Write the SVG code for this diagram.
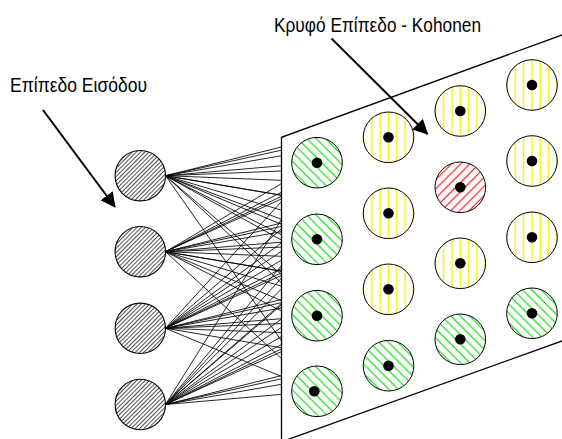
<svg xmlns="http://www.w3.org/2000/svg" width="562" height="439" viewBox="0 0 562 439">
  <style>
    .label { font-family: "Liberation Sans", Arial, sans-serif; font-size: 21px; fill: #000; }
    .link { stroke: #000; stroke-width: 0.85; fill: none; }
    .plane { stroke: #000; stroke-width: 1.3; fill: none; }
    .pointer { stroke: #000; stroke-width: 2; fill: none; marker-end: url(#head); }
    .input { fill: url(#hatchBlack); stroke: #000; stroke-width: 1.1; }
    .unit { stroke: #000; stroke-width: 1; }
    .green { fill: url(#hatchGreen); }
    .yellow { fill: url(#hatchYellow); }
    .red { fill: url(#hatchRed); }
    .dot { fill: #000; }
  </style>
  <defs>
    <marker id="head" viewBox="0 0 15 15" refX="14" refY="7.5" markerWidth="15" markerHeight="15" markerUnits="userSpaceOnUse" orient="auto">
      <path d="M0,0 L15,7.5 L0,15 Z" fill="#000"/>
    </marker>
    <pattern id="hatchBlack" patternUnits="userSpaceOnUse" width="3" height="10" patternTransform="rotate(45)">
      <rect width="3" height="10" fill="#fff"/>
      <line x1="1.5" y1="0" x2="1.5" y2="10" stroke="#000" stroke-width="0.7"/>
    </pattern>
    <pattern id="hatchGreen" patternUnits="userSpaceOnUse" width="6.6" height="10" patternTransform="rotate(-45)">
      <rect width="6.6" height="10" fill="#fff"/>
      <line x1="3.3" y1="0" x2="3.3" y2="10" stroke="#18e018" stroke-width="1.2"/>
    </pattern>
    <pattern id="hatchRed" patternUnits="userSpaceOnUse" width="6.5" height="10" patternTransform="rotate(45)">
      <rect width="6.5" height="10" fill="#fff"/>
      <line x1="3.25" y1="0" x2="3.25" y2="10" stroke="#ff1e1e" stroke-width="1.2"/>
    </pattern>
    <pattern id="hatchYellow" patternUnits="userSpaceOnUse" x="-4.15" y="0" width="8.3" height="10">
      <rect width="8.3" height="10" fill="#fff"/>
      <line x1="4.15" y1="0" x2="4.15" y2="10" stroke="#ffee00" stroke-width="1.4"/>
    </pattern>
  </defs>

  <rect width="562" height="439" fill="#fff"/>

  <!-- all-to-all links from the input units, ending at the edge of the map plane -->
  <g id="connectors">
    <path class="link" d="M165.5,175.7 L281.5,165.8 M165.5,175.7 L281.5,224.4 M165.5,175.7 L281.5,282.9 M165.5,175.7 L281.5,340.8
      M165.5,175.7 L281.5,155.7 M165.5,175.7 L281.5,195.3 M165.5,175.7 L281.5,234.8 M165.5,175.7 L281.5,274.5
      M165.5,175.7 L281.5,150.2 M165.5,175.7 L281.5,180.3 M165.5,175.7 L281.5,210.2 M165.5,175.7 L281.5,240.1
      M165.5,175.7 L281.5,147.0 M165.5,175.7 L281.5,171.0 M165.5,175.7 L281.5,195.2 M165.5,175.7 L281.5,219.3"/>
    <path class="link" d="M165.5,251.7 L281.5,183.6 M165.5,251.7 L281.5,242.2 M165.5,251.7 L281.5,300.7 M165.5,251.7 L281.5,358.6
      M165.5,251.7 L281.5,192.2 M165.5,251.7 L281.5,231.7 M165.5,251.7 L281.5,271.3 M165.5,251.7 L281.5,311.0
      M165.5,251.7 L281.5,196.3 M165.5,251.7 L281.5,226.4 M165.5,251.7 L281.5,256.3 M165.5,251.7 L281.5,286.2
      M165.5,251.7 L281.5,198.9 M165.5,251.7 L281.5,223.0 M165.5,251.7 L281.5,247.1 M165.5,251.7 L281.5,271.2"/>
    <path class="link" d="M165.5,328.3 L281.5,201.5 M165.5,328.3 L281.5,260.2 M165.5,328.3 L281.5,318.7 M165.5,328.3 L281.5,376.5
      M165.5,328.3 L281.5,228.9 M165.5,328.3 L281.5,268.5 M165.5,328.3 L281.5,308.0 M165.5,328.3 L281.5,347.8
      M165.5,328.3 L281.5,242.8 M165.5,328.3 L281.5,272.8 M165.5,328.3 L281.5,302.7 M165.5,328.3 L281.5,332.6
      M165.5,328.3 L281.5,251.3 M165.5,328.3 L281.5,275.4 M165.5,328.3 L281.5,299.5 M165.5,328.3 L281.5,323.6"/>
    <path class="link" d="M165.5,404.5 L281.5,219.4 M165.5,404.5 L281.5,278.0 M165.5,404.5 L281.5,336.5 M165.5,404.5 L281.5,394.4
      M165.5,404.5 L281.5,265.5 M165.5,404.5 L281.5,305.0 M165.5,404.5 L281.5,344.6 M165.5,404.5 L281.5,384.3
      M165.5,404.5 L281.5,289.0 M165.5,404.5 L281.5,319.0 M165.5,404.5 L281.5,348.9 M165.5,404.5 L281.5,378.8
      M165.5,404.5 L281.5,303.4 M165.5,404.5 L281.5,327.4 M165.5,404.5 L281.5,351.6 M165.5,404.5 L281.5,375.6"/>
    <!-- pointers from the layer captions -->
    <line class="pointer" x1="43" y1="110" x2="115" y2="207"/>
    <line class="pointer" x1="331.5" y1="38.5" x2="427.5" y2="134"/>
  </g>

  <!-- map plane seen in perspective -->
  <g id="plane">
    <path class="plane" d="M563,34.6 L281.5,137.3 L281.5,440"/>
    <path class="plane" d="M281.5,441.8 L563,340.6"/>
  </g>

  <!-- input layer -->
  <g id="input1" transform="translate(140.3,175.7)"><circle class="input" r="25.2"/></g>
  <g id="input2" transform="translate(140.3,251.7)"><circle class="input" r="25.2"/></g>
  <g id="input3" transform="translate(140.3,328.3)"><circle class="input" r="25.2"/></g>
  <g id="input4" transform="translate(140.3,404.5)"><circle class="input" r="25.2"/></g>

  <!-- Kohonen layer, column by column -->
  <g id="k11" transform="translate(317,162.7)"><circle class="unit green" r="25.3"/><circle class="dot" r="5.3"/></g>
  <g id="k21" transform="translate(317,239.3)"><circle class="unit green" r="25.3"/><circle class="dot" r="5.3"/></g>
  <g id="k31" transform="translate(317,315.7)"><circle class="unit green" r="25.3"/><circle class="dot" r="5.3"/></g>
  <g id="k41" transform="translate(317,391.3)"><circle class="unit green" r="25.3"/><circle class="dot" cx="-2.7" r="5.3"/></g>

  <g id="k12" transform="translate(388.5,137.3)"><circle class="unit yellow" r="25.3"/><circle class="dot" r="5.3"/></g>
  <g id="k22" transform="translate(388.5,213.3)"><circle class="unit yellow" r="25.3"/><circle class="dot" r="5.3"/></g>
  <g id="k32" transform="translate(388.5,289.3)"><circle class="unit yellow" r="25.3"/><circle class="dot" r="5.3"/></g>
  <g id="k42" transform="translate(388.5,365.7)"><circle class="unit green" r="25.3"/><circle class="dot" r="5.3"/></g>

  <g id="k13" transform="translate(460.3,111)"><circle class="unit yellow" r="25.3"/><circle class="dot" r="5.3"/></g>
  <g id="k23" transform="translate(460.3,187.3)"><circle class="unit red" r="25.3"/><circle class="dot" r="5.3"/></g>
  <g id="k33" transform="translate(460.3,263.3)"><circle class="unit yellow" r="25.3"/><circle class="dot" r="5.3"/></g>
  <g id="k43" transform="translate(460.3,339.3)"><circle class="unit green" r="25.3"/><circle class="dot" r="5.3"/></g>

  <g id="k14" transform="translate(532,85)"><circle class="unit yellow" r="25.3"/><circle class="dot" r="5.3"/></g>
  <g id="k24" transform="translate(532,161)"><circle class="unit yellow" r="25.3"/><circle class="dot" r="5.3"/></g>
  <g id="k34" transform="translate(532,237.3)"><circle class="unit yellow" r="25.3"/><circle class="dot" r="5.3"/></g>
  <g id="k44" transform="translate(532,313.3)"><circle class="unit green" r="25.3"/><circle class="dot" r="5.3"/></g>

  <!-- captions -->
  <g id="captions">
    <text class="label" x="10" y="91.7" textLength="137" lengthAdjust="spacingAndGlyphs">Επίπεδο Εισόδου</text>
    <text class="label" x="274" y="31.7" textLength="207" lengthAdjust="spacingAndGlyphs">Κρυφό Επίπεδο - Kohonen</text>
  </g>
</svg>
